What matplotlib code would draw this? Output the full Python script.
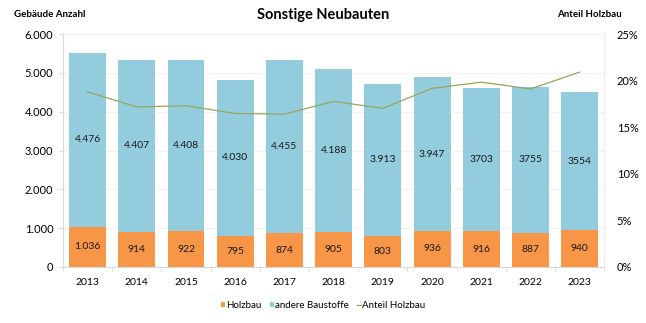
import matplotlib
matplotlib.use("Agg")
import matplotlib.pyplot as plt
from matplotlib.ticker import FuncFormatter, MultipleLocator

plt.rcParams['font.family'] = ['Lato', 'DejaVu Sans']

years = ["2013", "2014", "2015", "2016", "2017", "2018", "2019", "2020", "2021", "2022", "2023"]
holzbau = [1036, 914, 922, 795, 874, 905, 803, 936, 916, 887, 940]
andere = [4476, 4407, 4408, 4030, 4455, 4188, 3913, 3947, 3703, 3755, 3554]
# later years are published without a thousands separator
grouped = [True, True, True, True, True, True, True, True, False, False, False]

anteil = [h / (h + a) * 100 for h, a in zip(holzbau, andere)]

c_holz = "#F79646"
c_andere = "#93CDDD"
c_line = "#9AA35C"
grid_c = "#EFEFEF"
axis_c = "#D9D9D9"


def de_num(v, sep=True):
    s = f"{int(round(v)):,}" if sep else f"{int(round(v))}"
    return s.replace(",", ".")


fig = plt.figure(figsize=(6.46, 3.23), dpi=100)
ax = fig.add_axes([0.0975, 0.1734, 0.838, 0.7213])
x = list(range(len(years)))
w = 0.75

ax.bar(x, holzbau, w, color=c_holz, label="Holzbau", zorder=2)
ax.bar(x, andere, w, bottom=holzbau, color=c_andere, label="andere Baustoffe", zorder=2)

for i in x:
    ax.text(i, holzbau[i] / 2, de_num(holzbau[i], grouped[i]), ha="center", va="center",
            fontsize=7.5, color="#1a1a1a", zorder=4)
    ax.text(i, holzbau[i] + andere[i] / 2, de_num(andere[i], grouped[i]), ha="center",
            va="center", fontsize=7.5, color="#1a1a1a", zorder=4)

ax.set_xlim(-0.5, len(years) - 0.5)
ax.set_ylim(0, 6000)
ax.yaxis.set_major_locator(MultipleLocator(1000))
ax.yaxis.set_major_formatter(FuncFormatter(lambda v, p: de_num(v)))
ax.set_xticks(x)
ax.set_xticklabels(years)
ax.set_xticks([i - 0.5 for i in range(len(years) + 1)], minor=True)
ax.tick_params(axis="x", which="major", length=0, labelsize=7.5, pad=8)
ax.tick_params(axis="x", which="minor", length=3, color=axis_c)
ax.tick_params(axis="y", length=3, color=axis_c, labelsize=8, pad=4)
ax.grid(axis="y", color=grid_c, linewidth=0.6, zorder=0)
ax.set_axisbelow(True)
for s in ["top", "right"]:
    ax.spines[s].set_visible(False)
for s in ["left", "bottom"]:
    ax.spines[s].set_color(axis_c)
    ax.spines[s].set_linewidth(0.8)

ax2 = ax.twinx()
ax2.plot(x, anteil, color=c_line, linewidth=0.9, label="Anteil Holzbau", zorder=5)
ax2.set_ylim(0, 25)
ax2.yaxis.set_major_locator(MultipleLocator(5))
ax2.yaxis.set_major_formatter(FuncFormatter(lambda v, p: f"{int(v)}%"))
ax2.tick_params(axis="y", length=0, labelsize=8, pad=9)
for s in ["top", "left", "bottom"]:
    ax2.spines[s].set_visible(False)
ax2.spines["right"].set_color("#EBEBEB")
ax2.spines["right"].set_linewidth(0.8)

fig.text(0.5, 0.955, "Sonstige Neubauten", ha="center", va="center", fontsize=10.5,
         fontweight="bold")
fig.text(0.022, 0.955, "Gebäude Anzahl", ha="left", va="center", fontsize=7,
         fontweight="bold")
fig.text(0.913, 0.955, "Anteil Holzbau", ha="center", va="center", fontsize=7,
         fontweight="bold")

h1, l1 = ax.get_legend_handles_labels()
h2, l2 = ax2.get_legend_handles_labels()
fig.legend(h1 + h2, l1 + l2, loc="center", bbox_to_anchor=(0.5, 0.055), ncol=3,
           frameon=False, fontsize=7, handlelength=0.4, handleheight=0.4,
           handletextpad=0.1, columnspacing=0.9)

fig.savefig("out.png", dpi=100)
